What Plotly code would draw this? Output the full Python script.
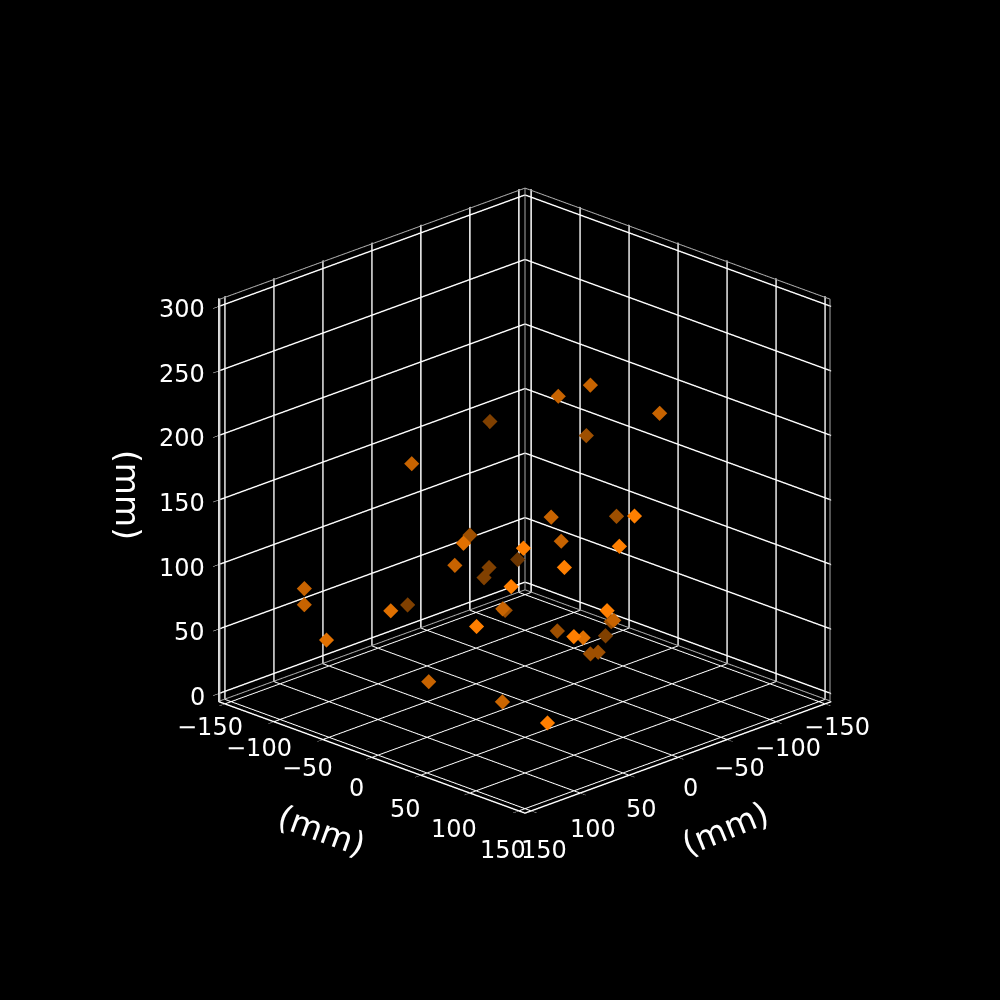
import plotly.graph_objects as go

# values
x_mm = [-6.9, -23.3, -58.6, -22.0, -46.2, 67.9, -3.3, -61.6, -5.8, 13.2,
        61.5, -8.4, 1.9, 50.9, -56.2, -21.6, 45.9, -19.0, 30.0, 57.2,
        122.7, 122.7, 20.0, 98.6, 131.4, 21.5, -4.8, 8.2, -35.2, -58.9,
        74.8, -31.4, 25.2, 0.4, -81.0, -48.3, -52.2, 59.2, 41.6, 38.6]
y_mm = [26.9, 43.3, 78.6, -58.0, 16.2, -47.9, 23.3, 31.6, 105.8, -43.2,
        -1.5, 28.4, 98.1, 49.1, -63.8, -58.4, -25.9, -61.0, 70.0, 42.9,
        -102.7, -102.7, -100.0, -38.6, -71.4, -1.5, -25.2, 91.8, 55.2, 28.9,
        25.2, 1.4, 74.8, 59.6, 1.0, 18.3, 22.2, -39.2, 18.4, 61.4]
z_mm = [236.0, 244.6, 222.8, 188.8, 191.7, 183.8, 142.4, 129.2, 165.3, 114.5,
        133.2, 123.7, 141.9, 140.4, 70.8, 75.7, 105.0, 67.8, 125.5, 110.7,
        87.0, 74.5, 46.7, 80.8, 58.2, 71.3, 56.3, 92.0, 62.4, 47.6,
        79.7, 40.3, 71.9, 60.0, 22.8, 22.6, 23.9, 14.9, 10.3, 5.0]
shade = [0.78, 0.78, 0.78, 0.5, 0.62, 0.78, 0.78, 0.62, 1.0, 0.62,
         0.88, 0.78, 1.0, 1.0, 0.42, 0.5, 0.78, 0.5, 1.0, 1.0,
         0.78, 0.78, 0.5, 0.88, 0.88, 0.78, 0.62, 1.0, 0.78, 0.62,
         1.0, 0.62, 1.0, 0.88, 0.5, 0.62, 0.62, 0.78, 0.8, 1.0]

xy_ticks = [-150, -100, -50, 0, 50, 100, 150]
z_ticks = [0, 50, 100, 150, 200, 250, 300]
xy_lim = 156.25
z_lo, z_hi = -6.25, 306.25

# depth shading blended onto the black pane
colors = [f"rgb({round(255 * a)},{round(127 * a)},0)" for a in shade]


def axis(ticks, lo, hi):
    return dict(
        range=[lo, hi],
        tickmode="array",
        tickvals=ticks,
        title=dict(text=""),
        showticklabels=False,
        showbackground=False,
        gridcolor="white",
        gridwidth=3,
        showline=True,
        linecolor="white",
        linewidth=3,
        ticks="outside",
        tickcolor="white",
        ticklen=8,
        zeroline=False,
        showspikes=False,
    )


# pane borders that plotly has no axis line for, kept just inside the clip box
e = xy_lim - 0.6
e_lo, e_hi = z_lo + 0.6, z_hi - 0.6
edge_x = [e, -e, -e, None, -e, -e, None, e, e, None, -e, -e, None, e, -e, -e]
edge_y = [-e, -e, e, None, -e, -e, None, -e, -e, None, e, e, None, -e, -e, e]
edge_z = [e_hi, e_hi, e_hi, None, e_lo, e_hi, None, e_lo, e_hi, None, e_lo, e_hi, None, e_lo, e_lo, e_lo]

fig = go.Figure()
fig.add_trace(
    go.Scatter3d(
        x=edge_x,
        y=edge_y,
        z=edge_z,
        mode="lines",
        line=dict(color="#a8a8a8", width=2),
        hoverinfo="skip",
    )
)
fig.add_trace(
    go.Scatter3d(
        x=x_mm,
        y=y_mm,
        z=z_mm,
        mode="markers",
        marker=dict(symbol="diamond", size=5, color=colors, line=dict(width=0)),
    )
)

tick_font = dict(size=24, color="white", family="DejaVu Sans")
title_font = dict(size=33, color="white", family="DejaVu Sans")


def tick_label(t, x, y, z, xshift, yshift, xanchor="center"):
    # scene annotations, since gl3d tick labels cannot be offset from the axis
    return dict(
        text=str(t).replace("-", "\u2212"),
        x=x,
        y=y,
        z=z,
        showarrow=False,
        font=tick_font,
        xanchor=xanchor,
        yanchor="middle",
        xshift=xshift,
        yshift=yshift,
    )


tick_labels = []
for t in xy_ticks:
    tick_labels.append(tick_label(t, e, t, e_lo, -16, -(32 + t * 0.052)))
    tick_labels.append(tick_label(t, t, e, e_lo, 13, -(32 + t * 0.052)))
for t in z_ticks:
    tick_labels.append(tick_label(t, e, -e, t, -13, -3, xanchor="right"))


def axis_title(px, py, angle):
    return dict(
        text="(mm)",
        x=px / 1000,
        y=1 - py / 1000,
        xref="paper",
        yref="paper",
        xanchor="center",
        yanchor="middle",
        showarrow=False,
        font=title_font,
        textangle=angle,
    )


fig.update_layout(
    width=1000,
    height=1000,
    paper_bgcolor="black",
    margin=dict(l=0, r=0, t=0, b=0),
    showlegend=False,
    scene=dict(
        domain=dict(x=[0.092, 0.958], y=[0.067, 0.933]),
        xaxis=axis(xy_ticks, -xy_lim, xy_lim),
        yaxis=axis(xy_ticks, -xy_lim, xy_lim),
        zaxis=axis(z_ticks, z_lo, z_hi),
        bgcolor="black",
        aspectmode="manual",
        aspectratio=dict(x=1, y=1, z=1),
        camera=dict(
            projection=dict(type="orthographic"),
            eye=dict(x=1.505, y=1.505, z=0.832),
            up=dict(x=0, y=0, z=1),
        ),
        annotations=tick_labels,
    ),
    annotations=[axis_title(322, 830, 20), axis_title(725, 828, -22), axis_title(128, 495, 90)],
)

fig.write_html(
    "out.html",
    config={"displayModeBar": False},
    post_script="document.body.style.margin='0';document.body.style.background='black';",
)
